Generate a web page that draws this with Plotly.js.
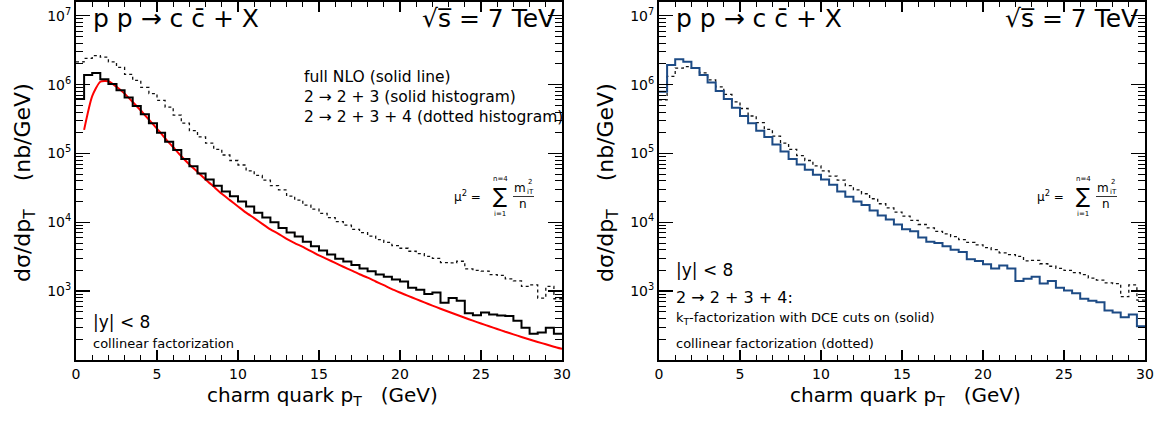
<!DOCTYPE html>
<html>
<head>
<meta charset="utf-8">
<script src="https://cdn.plot.ly/plotly-3.0.1.min.js"></script>
<style>
html,body{margin:0;padding:0;background:#ffffff;}
#chart{width:1163px;height:424px;}
</style>
</head>
<body>
<div id="chart"></div>
<script>
// ---------------- data ----------------
// histogram bins: 0.5 GeV wide, 0 .. 30 GeV (60 bins)
const binLowEdges = [0,0.5,1,1.5,2,2.5,3,3.5,4,4.5,5,5.5,6,6.5,7,7.5,8,8.5,9,9.5,
  10,10.5,11,11.5,12,12.5,13,13.5,14,14.5,15,15.5,16,16.5,17,17.5,18,18.5,19,19.5,
  20,20.5,21,21.5,22,22.5,23,23.5,24,24.5,25,25.5,26,26.5,27,27.5,28,28.5,29,29.5];
const lastEdge = 30;

// left panel: 2 -> 2+3 (solid histogram), collinear
const left23 = [6.2e5,1.38e6,1.48e6,1.2e6,1.02e6,8.3e5,6.5e5,4.9e5,3.7e5,2.75e5,
  2.0e5,1.48e5,1.12e5,8.3e4,6.5e4,5.1e4,4.2e4,3.4e4,2.8e4,2.4e4,
  2.0e4,1.7e4,1.38e4,1.17e4,1.0e4,8.3e3,7.1e3,6.2e3,5.2e3,4.5e3,
  3.9e3,3.4e3,2.95e3,2.7e3,2.4e3,2.14e3,1.95e3,1.74e3,1.62e3,1.48e3,
  1.38e3,1.12e3,1.05e3,910,955,676,794,724,479,447,
  490,457,442,437,372,295,240,251,295,240];

// left panel: 2 -> 2+3+4 (dotted histogram), collinear
const left234 = [2.14e6,2.4e6,2.63e6,2.5e6,2.14e6,1.78e6,1.41e6,1.15e6,9.1e5,7.4e5,
  5.9e5,4.7e5,3.6e5,2.75e5,2.14e5,1.74e5,1.41e5,1.15e5,9.5e4,7.9e4,
  6.8e4,5.6e4,4.8e4,4.1e4,3.4e4,2.95e4,2.4e4,2.1e4,1.78e4,1.55e4,
  1.35e4,1.17e4,1.02e4,9.1e3,7.9e3,7.1e3,6.3e3,5.6e3,5.1e3,4.6e3,
  4.2e3,3.8e3,3.5e3,3.2e3,3.0e3,2.6e3,2.57e3,2.72e3,2.1e3,2.0e3,
  1.95e3,1.74e3,1.7e3,1.51e3,1.41e3,1.17e3,1.23e3,794,1.17e3,776];

// left panel: full NLO (solid red line)
const nloPt = [0.5,1,1.5,2,2.5,3,3.5,4,4.5,5,5.5,6,6.5,7,7.5,8,8.5,9,9.5,10,
  10.5,11,11.5,12,12.5,13,13.5,14,14.5,15,15.5,16,16.5,17,17.5,18,18.5,19,19.5,20,
  20.5,21,21.5,22,22.5,23,23.5,24,24.5,25,25.5,26,26.5,27,27.5,28,28.5,29,29.5,30];
const nloValues = [2.2e5,6.8e5,1.10e6,1.12e6,9.3e5,7.4e5,5.6e5,4.2e5,3.1e5,2.3e5,
  1.66e5,1.23e5,9.1e4,6.9e4,5.4e4,4.2e4,3.3e4,2.6e4,2.1e4,1.7e4,
  1.38e4,1.15e4,9.5e3,7.9e3,6.8e3,5.75e3,5.0e3,4.4e3,3.8e3,3.3e3,
  2.92e3,2.57e3,2.26e3,2.0e3,1.76e3,1.57e3,1.38e3,1.22e3,1.07e3,955,
  854,765,686,617,556,502,454,411,373,339,
  309,282,257,236,216,199,183,169,156,145];

// right panel: kT-factorization with DCE cuts (solid blue histogram)
const rightKt = [7.9e5,1.93e6,2.34e6,2.14e6,1.74e6,1.38e6,1.07e6,8.1e5,6.2e5,4.6e5,
  3.5e5,2.75e5,2.14e5,1.74e5,1.35e5,1.07e5,8.3e4,6.9e4,5.8e4,4.9e4,
  4.2e4,3.5e4,2.8e4,2.35e4,2.0e4,1.78e4,1.48e4,1.26e4,1.1e4,9.3e3,
  7.9e3,7.4e3,6.0e3,5.2e3,5.0e3,4.5e3,4.0e3,3.7e3,2.9e3,2.75e3,
  2.45e3,2.14e3,2.35e3,2.14e3,1.41e3,1.51e3,1.62e3,1.29e3,1.41e3,1.12e3,
  1.02e3,933,776,724,692,525,490,417,457,309];

// right panel: collinear factorization (dotted histogram)
const rightColl = [6.0e5,1.32e6,1.74e6,1.82e6,1.74e6,1.48e6,1.17e6,9.3e5,7.2e5,5.6e5,
  4.5e5,3.5e5,2.8e5,2.24e5,1.78e5,1.41e5,1.15e5,9.3e4,7.9e4,6.6e4,
  5.6e4,4.7e4,4.1e4,3.4e4,2.95e4,2.6e4,2.2e4,1.86e4,1.62e4,1.41e4,
  1.23e4,1.07e4,9.3e3,8.3e3,7.4e3,6.8e3,6.2e3,5.6e3,5.1e3,4.7e3,
  4.3e3,4.0e3,3.6e3,3.4e3,3.2e3,2.75e3,2.8e3,2.5e3,2.3e3,2.14e3,
  2.0e3,1.86e3,1.74e3,1.55e3,1.45e3,1.32e3,1.29e3,832,1.23e3,741];

// tick labels
const xTickVals = [0,5,10,15,20,25,30];
const yTickVals = [1e3,1e4,1e5,1e6,1e7];
const yTickText = ['10<sup>3</sup>','10<sup>4</sup>','10<sup>5</sup>','10<sup>6</sup>','10<sup>7</sup>'];

// ---------------- drawing ----------------
const W = 1163, H = 424;
const FONT = 'DejaVu Sans, Liberation Sans, sans-serif';
const L0 = 76, L1 = 562, R0 = 659, R1 = 1145, TOP = 2, BOT = 360;

function stepTrace(vals, xa, ya, color, width, dash, name) {
  return {
    type: 'scatter', mode: 'lines', name: name,
    x: binLowEdges.concat([lastEdge]),
    y: vals.concat([vals[vals.length - 1]]),
    xaxis: xa, yaxis: ya,
    line: {shape: 'hv', color: color, width: width, dash: dash},
    hoverinfo: 'skip'
  };
}

const traces = [
  stepTrace(left234, 'x', 'y', '#111111', 1.3, 'dot', '2→2+3+4'),
  {type: 'scatter', mode: 'lines', name: 'full NLO', x: nloPt, y: nloValues,
   xaxis: 'x', yaxis: 'y', line: {color: '#ff0000', width: 2, shape: 'spline', smoothing: 0.6}, hoverinfo: 'skip'},
  stepTrace(left23, 'x', 'y', '#000000', 2, 'solid', '2→2+3'),
  stepTrace(rightColl, 'x2', 'y2', '#111111', 1.3, 'dot', 'collinear'),
  stepTrace(rightKt, 'x2', 'y2', '#1d4b85', 2, 'solid', 'kT')
];

const xMinor = [];
for (let v = 0; v <= 30; v++) if (v % 5 !== 0) xMinor.push(v);
const yMinor = [];
for (let e = 2; e <= 7; e++) for (let m = 2; m <= 9; m++) yMinor.push(m * Math.pow(10, e));

function xAxis(dom, anchor) {
  return {
    domain: dom, anchor: anchor, range: [0, 30],
    showline: true, linecolor: '#000', linewidth: 2, mirror: 'ticks',
    ticks: 'inside', ticklen: 10, tickwidth: 1.3, tickcolor: '#000',
    tickmode: 'array', tickvals: xTickVals,
    tickfont: {family: FONT, size: 14, color: '#000'},
    minor: {tickmode: 'array', tickvals: xMinor, ticks: 'inside', ticklen: 5, tickwidth: 1, tickcolor: '#000', showgrid: false},
    showgrid: false, zeroline: false, fixedrange: true
  };
}
function yAxis(anchor) {
  return {
    domain: [1 - BOT / H, 1 - TOP / H], anchor: anchor, type: 'log', range: [2, 7.2],
    showline: true, linecolor: '#000', linewidth: 2, mirror: 'ticks',
    ticks: 'inside', ticklen: 14, tickwidth: 1.3, tickcolor: '#000',
    tickmode: 'array', tickvals: yTickVals, ticktext: yTickText,
    tickfont: {family: FONT, size: 14, color: '#000'},
    minor: {tickmode: 'array', tickvals: yMinor, ticks: 'inside', ticklen: 7, tickwidth: 1, tickcolor: '#000', showgrid: false},
    showgrid: false, zeroline: false, fixedrange: true
  };
}

function ann(text, x, y, size, opts) {
  return Object.assign({
    xref: 'paper', yref: 'paper', x: x / W, y: 1 - y / H, text: text,
    showarrow: false, xanchor: 'left', yanchor: 'middle',
    font: {family: FONT, size: size, color: '#000'}
  }, opts || {});
}

const annotations = [];
const shapes = [];
[0, R0 - L0].forEach(function (dx) {
  annotations.push(ann('p p \u2192 c c\u0304 + X', 91 + dx, 19, 25));
  annotations.push(ann('\u221As\u0305 = 7 TeV', 557 + dx, 19, 25, {xanchor: 'right'}));
  // scale formula
  annotations.push(ann('\u03BC<sup>2</sup> =', 452 + dx, 196, 12));
  annotations.push(ann('\u2211', 500 + dx, 196, 21, {xanchor: 'center'}));
  annotations.push(ann('n=4', 500 + dx, 179, 7, {xanchor: 'center'}));
  annotations.push(ann('i=1', 500 + dx, 214, 7, {xanchor: 'center'}));
  annotations.push(ann('m', 520 + dx, 188, 12, {xanchor: 'center'}));
  annotations.push(ann('2', 526 + dx, 182, 7, {xanchor: 'left'}));
  annotations.push(ann('iT', 525 + dx, 192, 7, {xanchor: 'left'}));
  annotations.push(ann('n', 523 + dx, 204, 12, {xanchor: 'center'}));
  shapes.push({type: 'line', xref: 'paper', yref: 'paper',
    x0: (513 + dx) / W, x1: (534 + dx) / W, y0: 1 - 196.5 / H, y1: 1 - 196.5 / H,
    line: {color: '#000', width: 0.8}});
  // axis titles
  annotations.push(ann('charm quark p<sub>T</sub>   (GeV)', 322 + dx, 396, 20, {xanchor: 'center'}));
  annotations.push(ann('d\u03C3/dp<sub>T</sub>    (nb/GeV)', 24 + dx, 183, 22, {xanchor: 'center', textangle: -90}));
});

// left panel legend texts
annotations.push(ann('full NLO (solid line)', 302, 77, 15.5));
annotations.push(ann('2 \u2192 2 + 3 (solid histogram)', 302, 97, 15.5));
annotations.push(ann('2 \u2192 2 + 3 + 4 (dotted histogram)', 302, 117, 15.5));
annotations.push(ann('|y| &lt; 8', 91, 322, 17));
annotations.push(ann('collinear factorization', 91, 343, 13));

// right panel texts
annotations.push(ann('|y| &lt; 8', 674, 270, 17));
annotations.push(ann('2 \u2192 2 + 3 + 4:', 674, 297, 16));
annotations.push(ann('k<sub>T</sub>-factorization with DCE cuts on (solid)', 674, 318, 13));
annotations.push(ann('collinear factorization (dotted)', 674, 343, 13));

const layout = {
  width: W, height: H,
  margin: {l: 0, r: 0, t: 0, b: 0, pad: 0},
  paper_bgcolor: '#ffffff', plot_bgcolor: '#ffffff',
  showlegend: false,
  font: {family: FONT, color: '#000'},
  xaxis: xAxis([L0 / W, L1 / W], 'y'),
  yaxis: yAxis('x'),
  xaxis2: xAxis([R0 / W, R1 / W], 'y2'),
  yaxis2: yAxis('x2'),
  annotations: annotations,
  shapes: shapes
};

Plotly.newPlot('chart', traces, layout, {displayModeBar: false, staticPlot: true});
</script>
</body>
</html>
